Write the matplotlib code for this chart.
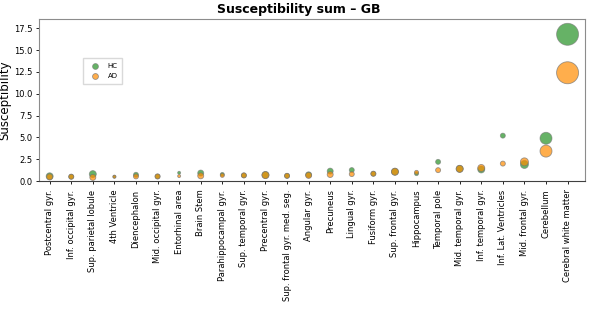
import numpy as np
import matplotlib
matplotlib.use('Agg')
import matplotlib.pyplot as plt

# regions, sorted by mean susceptibility
regions = ['Postcentral gyr.', 'Inf. occipital gyr.', 'Sup. parietal lobule',
           '4th Ventricle', 'Diencephalon', 'Mid. occipital gyr.', 'Entorhinal area',
           'Brain Stem', 'Parahippocampal gyr.', 'Sup. temporal gyr.', 'Precentral gyr.',
           'Sup. frontal gyr. med. seg.', 'Angular gyr.', 'Precuneus', 'Lingual gyr.',
           'Fusiform gyr.', 'Sup. frontal gyr.', 'Hippocampus', 'Temporal pole',
           'Mid. temporal gyr.', 'Inf. temporal gyr.', 'Inf. Lat. Ventricles',
           'Mid. frontal gyr.', 'Cerebellum', 'Cerebral white matter']

hc_sum = [0.55, 0.5, 0.8, 0.5, 0.72, 0.53, 0.95, 0.92, 0.76, 0.65, 0.7, 0.6, 0.72,
          1.14, 1.26, 0.84, 1.07, 0.85, 2.2, 1.4, 1.33, 5.2, 1.9, 4.9, 16.8]
ad_sum = [0.48, 0.5, 0.42, 0.5, 0.53, 0.53, 0.57, 0.6, 0.65, 0.65, 0.68, 0.6, 0.65,
          0.75, 0.8, 0.84, 1.07, 1.0, 1.25, 1.4, 1.5, 2.0, 2.2, 3.43, 12.4]

# spread of each region (drives marker size)
hc_spread = [7, 5, 7, 3, 5, 5, 3, 6, 4, 5, 7, 5, 6, 6, 5, 5, 7, 4, 5, 7, 7, 5, 8, 12, 22]
ad_spread = [6, 5, 6, 3, 5, 5, 3, 6, 4, 5, 7, 5, 6, 6, 5, 5, 7, 4, 5, 7, 7, 5, 8, 12, 22]

x = np.arange(len(regions))
size_hc = (0.72 * np.array(hc_spread)) ** 2
size_ad = (0.72 * np.array(ad_spread)) ** 2

fig = plt.figure(figsize=(5.98, 3.09), dpi=100)
ax = fig.add_axes([0.065, 0.414, 0.913, 0.523])

ax.scatter(x, hc_sum, s=size_hc, color='green', alpha=0.6, edgecolors='0.45',
           linewidths=0.6, label='HC')
ax.scatter(x, ad_sum, s=size_ad, color='darkorange', alpha=0.7, edgecolors='0.45',
           linewidths=0.6, label='AD')

ax.set_xlim(-0.5, 24.8)
ax.set_ylim(0, 18.5)
ax.set_yticks(np.arange(0, 18, 2.5))
ax.set_xticks(x)
ax.set_xticklabels(regions, rotation=90, fontsize=6)
ax.tick_params(axis='y', labelsize=6, length=2.5, width=0.6, pad=2)
ax.tick_params(axis='x', length=2.5, width=0.6)
ax.set_ylabel('Susceptibility', fontsize=8.5)
ax.yaxis.set_label_coords(-0.05, 0.5)

for side in ['top', 'right', 'left']:
    ax.spines[side].set_color('0.55')
ax.spines['bottom'].set_color('0.25')

leg = ax.legend(loc='upper left', bbox_to_anchor=(0.075, 0.785), fontsize=5,
                handletextpad=0.8, borderpad=0.7, labelspacing=0.6, framealpha=1,
                edgecolor='0.85', fancybox=False)
for h in leg.legend_handles:
    h.set_sizes([18])

fig.suptitle('Susceptibility sum \u2013 GB', fontsize=9, fontweight='bold', y=0.99)

fig.savefig('out.png', dpi=100)
